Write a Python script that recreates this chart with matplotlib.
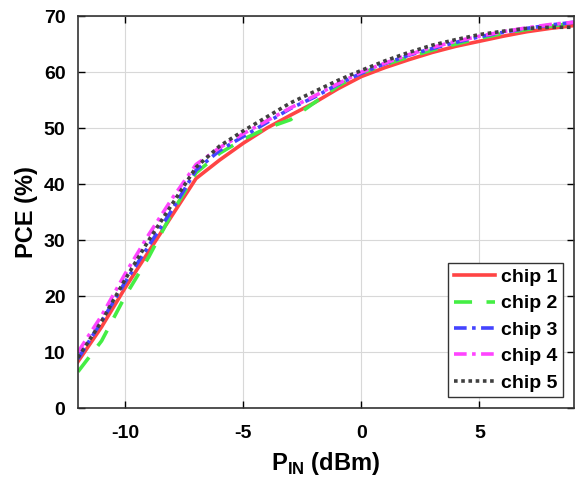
import numpy as np
import matplotlib.pyplot as plt

# input power sweep (dBm)
p_in = [-12, -11, -10, -9, -8, -7, -6, -5, -4, -3, -2, -1, 0, 1, 2, 3, 4, 5, 6, 7, 8, 9]

# PCE (%) per chip
chip1 = [8.3, 14.5, 21.5, 28.0, 34.5, 41.0, 44.3, 47.3, 50.0, 52.3, 54.5, 57.0, 59.2,
         60.8, 62.2, 63.5, 64.6, 65.5, 66.4, 67.2, 67.8, 68.3]
chip2 = [6.5, 12.0, 20.0, 27.0, 35.0, 42.0, 45.5, 48.0, 50.0, 51.5, 54.5, 57.5, 59.8,
         61.3, 62.7, 63.9, 65.0, 66.0, 66.9, 67.6, 68.2, 68.7]
chip3 = [8.8, 15.5, 22.5, 29.0, 35.5, 42.5, 46.0, 48.5, 51.0, 53.5, 55.5, 57.8, 59.8,
         61.5, 63.0, 64.2, 65.3, 66.3, 67.1, 67.8, 68.4, 68.9]
chip4 = [10.0, 16.5, 24.0, 31.0, 37.5, 43.5, 46.5, 49.0, 51.3, 53.6, 55.7, 57.9, 60.0,
         61.6, 63.1, 64.4, 65.5, 66.4, 67.2, 67.9, 68.5, 68.9]
chip5 = [9.0, 15.5, 23.0, 30.0, 36.5, 43.0, 46.8, 49.5, 52.0, 54.5, 56.5, 58.5, 60.3,
         62.0, 63.5, 64.8, 65.8, 66.7, 67.3, 67.8, 68.0, 68.0]

labels = ['chip 1', 'chip 2', 'chip 3', 'chip 4', 'chip 5']

plt.rcParams['font.family'] = ['Liberation Sans', 'DejaVu Sans']
plt.rcParams['font.weight'] = 'bold'
plt.rcParams['axes.unicode_minus'] = False
plt.rcParams['mathtext.fontset'] = 'custom'
plt.rcParams['mathtext.rm'] = 'Liberation Sans:bold'
plt.rcParams['mathtext.bf'] = 'Liberation Sans:bold'

fig = plt.figure(figsize=(5.82, 4.87), dpi=100)
ax = fig.add_axes([0.134, 0.162, 0.852, 0.805])

ax.plot(p_in, chip1, color='#ff4444', lw=2.6, ls='-', label=labels[0])
ax.plot(p_in, chip2, color='#44ee44', lw=2.6, ls=(0, (5, 4)), label=labels[1])
ax.plot(p_in, chip3, color='#4444ff', lw=2.6, ls=(0, (3.5, 1.5, 1, 1.5)), label=labels[2])
ax.plot(p_in, chip4, color='#ff44ff', lw=2.6, ls=(0, (3.5, 1.5, 1, 1.5)), label=labels[3])
ax.plot(p_in, chip5, color='#404040', lw=2.6, ls=(0, (1, 1)), label=labels[4])

ax.set_xlim(-12, 9)
ax.set_ylim(0, 70)
ax.set_xticks([-10, -5, 0, 5])
ax.set_yticks(np.arange(0, 71, 10))
ax.grid(True, color='#d8d8d8', lw=0.8)
ax.tick_params(direction='in', top=True, right=True, labelsize=14, length=5, width=1)
ax.tick_params(axis='x', pad=12)
ax.tick_params(axis='y', pad=9)
for s in ax.spines.values():
    s.set_linewidth(1.2)
    s.set_color('#333333')

ax.set_xlabel(r'P$_{\mathbf{IN}}$ (dBm)', fontsize=17, fontweight='bold', labelpad=6)
ax.set_ylabel('PCE (%)', fontsize=17, fontweight='bold', labelpad=4)

leg = ax.legend(loc='lower right', fontsize=14, fancybox=False, framealpha=1,
                edgecolor='#333333', handlelength=2.1, handletextpad=0.3,
                borderpad=0.3, labelspacing=0.45, borderaxespad=0.55)
leg.get_frame().set_linewidth(1.0)

fig.savefig('out.png', dpi=100)
